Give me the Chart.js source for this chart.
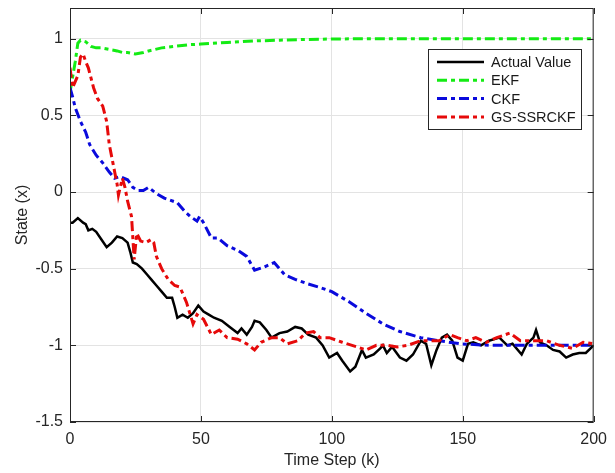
<!DOCTYPE html>
<html>
<head>
<meta charset="utf-8">
<script src="https://cdn.jsdelivr.net/npm/chart.js@4.4.1/dist/chart.umd.min.js"></script>
<style>
  html, body { margin: 0; padding: 0; background: #fff; }
  canvas { display: block; }
</style>
</head>
<body>
<canvas id="stateChart" width="615" height="473"></canvas>
<script>
// data
const xTicks = [0, 50, 100, 150, 200];
const yTicks = [-1.5, -1, -0.5, 0, 0.5, 1];

const actualSteps = [0, 1, 3, 5, 6, 7, 8.5, 10, 12, 14, 16, 18, 20, 22, 23, 24, 25.5, 27.5, 29.5, 31, 33, 35, 37, 39, 40, 41, 43, 45, 47, 49, 51, 53, 55, 58, 61, 64, 65.5, 67.5, 69.5, 70.5, 72.5, 75, 77, 80, 83, 86, 88.5, 91, 94, 96.5, 99, 102, 104, 107, 109, 111.5, 113, 116, 118.5, 119.5, 121, 123, 126, 128.5, 131, 134, 136, 138, 140, 142, 144, 146, 148, 150, 152, 154, 157, 160, 164, 167, 169, 172.5, 174.5, 177, 178, 179.5, 182, 184.5, 187, 189.5, 192, 194.5, 197, 200];
const actualValues = [-0.2, -0.2, -0.17, -0.2, -0.21, -0.25, -0.24, -0.26, -0.31, -0.36, -0.33, -0.29, -0.3, -0.33, -0.39, -0.46, -0.47, -0.5, -0.54, -0.57, -0.61, -0.65, -0.69, -0.69, -0.75, -0.82, -0.8, -0.82, -0.79, -0.74, -0.78, -0.8, -0.82, -0.84, -0.88, -0.92, -0.89, -0.93, -0.88, -0.84, -0.85, -0.9, -0.95, -0.92, -0.91, -0.88, -0.89, -0.93, -0.95, -1.0, -1.08, -1.05, -1.1, -1.17, -1.14, -1.03, -1.08, -1.06, -1.02, -1.0, -1.05, -1.01, -1.08, -1.1, -1.06, -0.97, -0.99, -1.13, -1.03, -0.95, -0.93, -0.97, -1.08, -1.1, -0.99, -0.98, -1.0, -0.97, -0.95, -1.0, -0.99, -1.06, -0.99, -0.95, -0.9, -0.98, -1.0, -1.03, -1.04, -1.08, -1.06, -1.05, -1.05, -1.0];

const ekfSteps = [0, 2, 3, 4, 6, 8, 10, 12, 15, 18, 20, 22, 25, 28, 30, 35, 40, 45, 50, 60, 70, 80, 90, 100, 120, 150, 200];
const ekfValues = [0.65, 0.85, 0.97, 0.99, 0.98, 0.95, 0.94, 0.94, 0.93, 0.92, 0.91, 0.91, 0.9, 0.91, 0.92, 0.94, 0.95, 0.96, 0.965, 0.975, 0.985, 0.99, 0.995, 0.998, 1.0, 1.0, 1.0];

const ckfSteps = [0, 1, 2, 4, 6, 7.5, 10, 12.5, 15, 17, 19, 22, 24, 26, 28, 30, 33, 36, 41, 44, 46, 48.5, 49.5, 51, 54, 56.5, 60, 64, 67.5, 70.5, 74, 78, 82, 86, 91, 95, 100, 107, 113, 119.5, 126, 134, 141, 149, 160, 200];
const ckfValues = [0.68, 0.62, 0.55, 0.46, 0.39, 0.31, 0.24, 0.19, 0.13, 0.09, 0.1, 0.08, 0.03, 0.01, 0.01, 0.03, -0.01, -0.04, -0.07, -0.13, -0.16, -0.19, -0.16, -0.2, -0.3, -0.3, -0.35, -0.38, -0.42, -0.51, -0.49, -0.46, -0.54, -0.57, -0.6, -0.62, -0.65, -0.72, -0.79, -0.86, -0.91, -0.95, -0.97, -0.99, -1.0, -1.0];

const gsSteps = [0, 1, 2, 3, 4, 5, 6, 7, 9, 10.5, 12.5, 14, 15, 16.5, 18, 18.5, 20, 21, 22, 23.5, 24.5, 25.5, 27, 29, 31, 32, 33, 35, 37.5, 40, 42, 44.5, 47, 48.5, 51, 54, 57, 60, 64, 67.5, 70.5, 73, 77, 80, 83, 87, 90, 93, 95.5, 99, 104, 109.5, 113, 117, 121, 125, 129, 134, 137.5, 141, 145, 148, 151.5, 155, 159, 163, 168, 172, 177, 182, 187, 192, 196, 200];
const gsValues = [0.81, 0.68, 0.72, 0.76, 0.88, 0.9, 0.85, 0.81, 0.68, 0.61, 0.56, 0.46, 0.31, 0.18, 0.05, -0.02, 0.09, 0.03, -0.06, -0.16, -0.44, -0.27, -0.32, -0.33, -0.31, -0.33, -0.42, -0.5, -0.57, -0.61, -0.62, -0.72, -0.86, -0.8, -0.83, -0.93, -0.9, -0.95, -0.96, -0.99, -1.03, -0.98, -0.95, -0.95, -0.99, -0.97, -0.92, -0.91, -0.95, -0.95, -0.98, -1.01, -1.03, -1.0, -1.0, -1.01, -1.0, -0.97, -0.97, -0.97, -0.93, -0.95, -0.97, -0.95, -0.98, -0.95, -0.92, -0.97, -0.97, -0.97, -1.0, -1.02, -0.98, -0.99];

function toPoints(steps, values) {
    return steps.map((s, i) => ({ x: s, y: values[i] }));
}

const axisColor = '#262626';
const fontFamily = '"Liberation Sans", Arial, sans-serif';

// MATLAB-like box with inward ticks
const boxPlugin = {
    id: 'box',
    afterDatasetsDraw(chart) {
        const { ctx, chartArea: a, scales } = chart;
        ctx.save();
        ctx.strokeStyle = axisColor;
        ctx.lineWidth = 1;
        ctx.strokeRect(a.left + 0.5, a.top + 0.5, a.right - a.left - 1, a.bottom - a.top - 1);
        ctx.beginPath();
        xTicks.forEach(v => {
            const px = Math.round(scales.x.getPixelForValue(v)) + 0.5;
            ctx.moveTo(px, a.bottom); ctx.lineTo(px, a.bottom - 6);
            ctx.moveTo(px, a.top); ctx.lineTo(px, a.top + 6);
        });
        yTicks.forEach(v => {
            const py = Math.round(scales.y.getPixelForValue(v)) + 0.5;
            ctx.moveTo(a.left, py); ctx.lineTo(a.left + 6, py);
            ctx.moveTo(a.right, py); ctx.lineTo(a.right - 6, py);
        });
        ctx.stroke();
        ctx.restore();
    },
    afterDraw(chart) {
        // legend box inside the axes (top right)
        const { ctx } = chart;
        const bx = 428, by = 49, bw = 153, bh = 80;
        ctx.save();
        ctx.fillStyle = '#fff';
        ctx.fillRect(bx, by, bw, bh);
        ctx.strokeStyle = axisColor;
        ctx.lineWidth = 1;
        ctx.strokeRect(bx + 0.5, by + 0.5, bw, bh);
        ctx.font = '14.5px ' + fontFamily;
        ctx.textBaseline = 'middle';
        chart.data.datasets.forEach((ds, i) => {
            const y = 62 + i * 18.3;
            ctx.strokeStyle = ds.borderColor;
            ctx.lineWidth = ds.borderWidth;
            ctx.setLineDash(ds.borderDash || []);
            ctx.beginPath();
            ctx.moveTo(437, y); ctx.lineTo(484, y);
            ctx.stroke();
            ctx.setLineDash([]);
            ctx.fillStyle = '#1a1a1a';
            ctx.fillText(ds.label, 491, y + 1);
        });
        ctx.restore();
    }
};

const ctx = document.getElementById('stateChart').getContext('2d');
new Chart(ctx, {
    type: 'line',
    data: {
        datasets: [{
            label: 'Actual Value',
            data: toPoints(actualSteps, actualValues),
            borderColor: '#000000',
            borderWidth: 2.5,
            order: 3
        }, {
            label: 'EKF',
            data: toPoints(ekfSteps, ekfValues),
            borderColor: 'rgb(20,235,20)',
            borderWidth: 3,
            borderDash: [10, 4, 4, 4],
            order: 2
        }, {
            label: 'CKF',
            data: toPoints(ckfSteps, ckfValues),
            borderColor: 'rgb(10,10,220)',
            borderWidth: 3,
            borderDash: [10, 4, 4, 4],
            order: 1
        }, {
            label: 'GS-SSRCKF',
            data: toPoints(gsSteps, gsValues),
            borderColor: 'rgb(230,10,10)',
            borderWidth: 3,
            borderDash: [10, 4, 4, 4],
            order: 0
        }]
    },
    options: {
        responsive: false,
        animation: false,
        devicePixelRatio: 1,
        elements: { point: { radius: 0 }, line: { tension: 0 } },
        layout: { padding: { left: 0, right: 21, top: 8, bottom: 0 } },
        plugins: { legend: { display: false }, tooltip: { enabled: false } },
        scales: {
            x: {
                type: 'linear',
                min: 0,
                max: 200,
                afterBuildTicks: s => { s.ticks = xTicks.map(v => ({ value: v })); },
                afterFit: s => { s.height = 51; },
                grid: { color: '#e3e3e3', drawTicks: false },
                border: { display: false },
                ticks: { padding: 8, color: axisColor, font: { size: 16, family: fontFamily }, callback: v => String(v) },
                title: {
                    display: true,
                    text: 'Time Step (k)',
                    color: axisColor,
                    font: { size: 16, family: fontFamily },
                    padding: { top: 0, bottom: 3 }
                }
            },
            y: {
                min: -1.5,
                max: 1.2,
                afterBuildTicks: s => { s.ticks = yTicks.map(v => ({ value: v })); },
                afterFit: s => { s.width = 70; s.paddingTop = 0; s.paddingBottom = 0; },
                grid: { color: '#e3e3e3', drawTicks: false },
                border: { display: false },
                ticks: { padding: 7, color: axisColor, font: { size: 16, family: fontFamily }, callback: v => String(v) },
                title: {
                    display: true,
                    text: 'State (x)',
                    color: axisColor,
                    font: { size: 16, family: fontFamily },
                    padding: { top: 13, bottom: 0 }
                }
            }
        }
    },
    plugins: [boxPlugin]
});
</script>
</body>
</html>
